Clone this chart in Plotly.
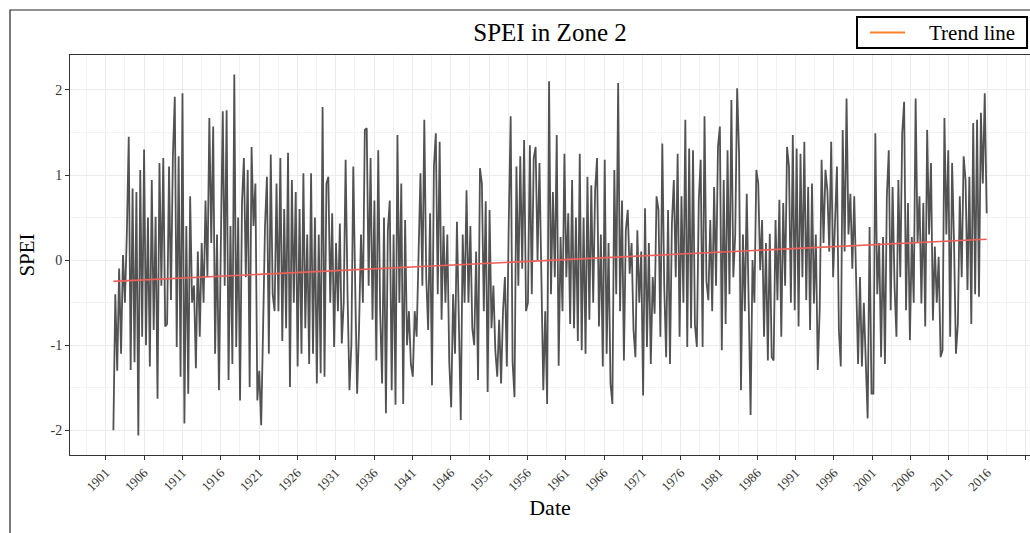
import pandas as pd
import plotly.graph_objects as go

# ---- data (quarterly extremes) ----
years = list(range(1902, 2016))
spei = [
    -2.0, -0.4, -1.3, -0.1,     # 1902
    -1.1, 0.06, -0.5, 0.3,      # 1903
    1.45, -1.29, 0.84, -1.2,    # 1904
    0.8, -2.06, 1.06, -0.9,     # 1905
    1.3, -1.0, 0.5, -1.25,      # 1906
    0.94, -0.82, 0.51, -1.63,   # 1907
    1.14, -0.3, 1.2, -0.78,     # 1908
    -0.75, 1.1, -0.47, 1.22,    # 1909
    1.92, -1.02, 1.22, -1.37,   # 1910
    1.96, -1.92, 0.4, -1.57,    # 1911
    0.75, -0.5, -0.3, -1.27,    # 1912
    0.1, -0.9, 0.2, -0.5,       # 1913
    0.7, -0.2, 1.67, 0.2,       # 1914
    1.57, -1.1, 0.3, -1.53,     # 1915
    0.2, 1.75, -0.3, 1.76,      # 1916
    -1.41, 0.4, -1.22, 2.18,    # 1917
    -1.02, 0.5, -1.65, 0.67,    # 1918
    1.2, -0.2, 1.06, -1.49,     # 1919
    1.33, 0.4, 0.9, -1.65,      # 1920
    -1.3, -1.94, -0.8, 0.4,     # 1921
    0.98, -1.1, 1.24, -0.4,     # 1922
    -0.6, 0.9, -0.6, 1.2,       # 1923
    -0.95, 0.6, -0.8, 1.26,     # 1924
    -1.49, 0.94, -0.5, 0.8,     # 1925
    -1.25, 0.6, -1.1, 1.02,     # 1926
    -0.8, 0.3, -1.22, 1.02,     # 1927
    -1.1, 0.5, -1.45, 0.3,      # 1928
    -1.33, 1.8, -1.37, 0.9,     # 1929
    0.98, -0.5, 0.55, -1.02,    # 1930
    0.2, -0.6, 0.43, -0.98,     # 1931
    -0.5, 1.18, -0.4, -1.53,    # 1932
    -1.0, 1.1, -0.3, -1.57,     # 1933
    -0.8, 0.3, -0.5, 1.53,      # 1934
    1.55, -0.3, 1.2, -0.7,      # 1935
    0.7, -1.18, 1.29, -0.6,     # 1936
    -1.45, 0.5, -1.8, 0.35,     # 1937
    0.7, -1.53, 0.3, -1.7,      # 1938
    1.47, -0.5, 0.9, -1.69,     # 1939
    0.47, -1.0, -0.6, -1.22,    # 1940
    -1.37, -0.6, -0.9, 0.2,     # 1941
    1.02, -0.3, 1.65, -0.2,     # 1942
    -0.82, 0.55, -1.47, 1.1,    # 1943
    1.49, -0.4, 1.39, -0.7,     # 1944
    0.4, -0.5, 0.3, -1.2,       # 1945
    -1.73, -0.4, -1.1, 0.45,    # 1946
    -0.6, -1.88, 0.3, -0.5,     # 1947
    0.82, -0.5, 0.4, -0.8,      # 1948
    -1.0, 0.1, -1.41, 1.08,     # 1949
    0.9, -0.6, 0.69, -1.55,     # 1950
    0.59, -0.8, -0.3, -1.06,    # 1951
    -1.37, -0.7, -1.45, -0.6,   # 1952
    -0.2, -1.25, 0.45, 1.69,    # 1953
    -1.2, -1.61, 1.1, -0.3,     # 1954
    1.22, -0.1, 1.41, -0.6,     # 1955
    -0.5, 1.35, -0.4, 1.2,      # 1956
    1.33, 0.0, 1.14, -0.3,      # 1957
    -1.53, -0.6, -1.69, 2.1,    # 1958
    -0.4, 0.8, -0.2, 1.47,      # 1959
    -1.24, 0.27, -0.6, 1.25,    # 1960
    -0.2, 0.55, -0.75, 0.94,    # 1961
    -0.8, 0.5, -0.95, 1.25,     # 1962
    -1.06, 0.5, -1.1, 0.98,     # 1963
    -0.7, 0.88, -0.5, 0.82,     # 1964
    1.2, -0.78, 0.3, -1.25,     # 1965
    1.18, -1.1, 0.2, -1.45,     # 1966
    -1.69, 1.06, -0.4, 2.08,    # 1967
    -0.6, 0.7, -1.18, 0.35,     # 1968
    0.59, -0.16, 0.2, -0.82,    # 1969
    -1.14, 0.35, -0.5, 0.1,     # 1970
    -1.59, 0.61, -1.02, 0.2,    # 1971
    -1.22, -0.2, -0.63, 0.75,   # 1972
    0.59, -0.9, 1.37, -0.3,     # 1973
    -1.14, 0.59, -1.22, 0.43,   # 1974
    0.94, -0.2, 1.25, -0.9,     # 1975
    0.75, -0.5, 1.65, -1.02,    # 1976
    1.31, -0.8, 1.29, -0.76,    # 1977
    -1.02, 0.7, 1.18, -1.02,    # 1978
    1.69, -0.25, -0.47, 0.47,   # 1979
    -0.6, 0.86, -0.3, 1.33,     # 1980
    1.57, -1.06, 0.94, -0.75,   # 1981
    1.29, -0.4, 1.88, -0.2,     # 1982
    0.3, 2.02, 1.25, -1.53,     # 1983
    0.3, -0.6, 0.78, -0.5,      # 1984
    -1.82, 0.0, -0.5, 1.06,     # 1985
    0.9, -0.12, 0.47, -0.9,     # 1986
    0.2, -1.18, 0.31, -1.14,    # 1987
    -1.18, 0.47, -0.47, 0.71,   # 1988
    -0.9, 0.67, -0.3, 1.33,     # 1989
    1.1, -0.5, 1.47, -0.59,     # 1990
    1.31, -0.78, 1.25, -0.2,    # 1991
    1.39, -0.47, 0.86, -0.82,   # 1992
    0.9, -0.51, 0.3, -1.29,     # 1993
    -0.59, 1.18, 0.2, 1.06,     # 1994
    0.82, 0.1, 1.39, -0.2,      # 1995
    0.59, 1.1, -0.82, -1.25,    # 1996
    1.53, 0.1, 1.9, 0.3,        # 1997
    0.78, -0.1, 0.75, -0.3,     # 1998
    -1.22, -0.2, -1.25, -0.5,   # 1999
    -1.3, -1.86, 0.39, -1.57,   # 2000
    -1.57, 1.49, -0.4, 0.2,     # 2001
    -1.14, 0.27, -1.22, 0.75,   # 2002
    1.29, -0.59, 0.86, -0.3,    # 2003
    -0.9, 0.94, -0.2, 1.49,     # 2004
    1.86, -0.59, 0.67, -0.94,   # 2005
    0.27, -0.5, 1.9, 0.2,       # 2006
    0.75, -0.51, 0.67, -0.78,   # 2007
    1.53, 0.3, 1.14, -0.71,     # 2008
    0.16, -0.5, 0.04, -1.14,    # 2009
    -1.06, 1.67, 0.3, 1.29,     # 2010
    -0.9, 1.14, 0.2, -1.1,      # 2011
    -0.75, 0.75, -0.2, 1.22,    # 2012
    0.94, -0.35, 0.98, -0.75,   # 2013
    1.61, -0.4, 1.65, -0.43,    # 2014
    1.73, 0.9, 1.96, 0.55,      # 2015
]
trend_start = -0.25
trend_end = 0.245
legend_label = "Trend line"

x_tick_years = list(range(1901, 2022, 5))
x_tick_labels = [str(y) for y in x_tick_years]
y_tick_vals = [-2, -1, 0, 1, 2]
y_tick_labels = ["-2", "-1", "0", "1", "2"]

# ---- build ----
dates = pd.date_range(start=f"{years[0]}-01-01", end=f"{years[-1]}-12-01", periods=len(spei))

FONT = "Liberation Serif"
fig = go.Figure()
fig.add_trace(go.Scatter(
    x=dates, y=spei, mode="lines",
    line=dict(color="#525252", width=1.8),
    showlegend=False, name="SPEI",
))
fig.add_trace(go.Scatter(
    x=[dates[0], dates[-1]], y=[trend_start, trend_end], mode="lines",
    line=dict(color="#EE5F57", width=1.6),
    showlegend=False, name=legend_label,
))

major_x = [f"{y}-01-01" for y in x_tick_years]
minor_x = [f"{y}-07-02" for y in range(1898, 2021, 5)]

# legend box drawn as in the reference (boxed key with an orange line)
legend_shapes = [
    dict(type="rect", xref="paper", yref="paper",
         x0=0.8198, x1=0.9969, y0=1.0175, y1=1.095,
         line=dict(color="#000", width=2), fillcolor="white", layer="above"),
    dict(type="line", xref="paper", yref="paper",
         x0=0.8333, x1=0.8698, y0=1.05625, y1=1.05625,
         line=dict(color="#FF7F2A", width=2), layer="above"),
]

fig.update_layout(
    width=1030, height=533,
    margin=dict(l=70, r=0, t=55, b=78),
    paper_bgcolor="white", plot_bgcolor="white",
    font=dict(family=FONT, color="#000"),
    showlegend=False,
    title=dict(text="SPEI in Zone 2", x=0.5, xanchor="center",
               y=1 - 32 / 533, yanchor="middle",
               xref="paper", font=dict(size=25, family=FONT, color="#000")),
    shapes=[dict(type="rect", xref="paper", yref="paper",
                 x0=-0.0625, x1=1.2, y0=-0.4, y1=1.1125,
                 line=dict(color="#222", width=1.2), layer="below")] + legend_shapes,
    annotations=[dict(text=legend_label, xref="paper", yref="paper",
                      x=0.8927, y=1.05625, xanchor="left", yanchor="middle",
                      showarrow=False, font=dict(size=21, family=FONT, color="#000"))],
)
fig.update_xaxes(
    type="date",
    range=["1896-05-04", "2021-07-27"],
    tickvals=major_x, ticktext=x_tick_labels, tickangle=-45,
    tickfont=dict(size=13, family=FONT, color="#333"),
    ticks="outside", ticklen=4, tickcolor="#333", tickwidth=1,
    showgrid=True, gridcolor="#EBEBEB", gridwidth=1.1,
    minor=dict(tickvals=minor_x, showgrid=True, gridcolor="#F2F2F2", gridwidth=0.6, ticks=""),
    showline=True, mirror=True, linecolor="#333", linewidth=1.1,
    zeroline=False,
    title=dict(text="Date", font=dict(size=22, family=FONT, color="#000"), standoff=6),
)
fig.update_yaxes(
    range=[-2.29, 2.41],
    tickvals=y_tick_vals, ticktext=y_tick_labels,
    tickfont=dict(size=14, family=FONT, color="#333"),
    ticks="outside", ticklen=4, tickcolor="#333", tickwidth=1,
    showgrid=True, gridcolor="#EBEBEB", gridwidth=1.1,
    minor=dict(tickvals=[-1.5, -0.5, 0.5, 1.5], showgrid=True, gridcolor="#F2F2F2", gridwidth=0.6, ticks=""),
    showline=True, mirror=True, linecolor="#333", linewidth=1.1,
    zeroline=False,
    title=dict(text="SPEI", font=dict(size=21, family=FONT, color="#000"), standoff=10),
)

fig.write_html("out.html", config={"displayModeBar": False},
               post_script="document.body.style.margin='0';")
